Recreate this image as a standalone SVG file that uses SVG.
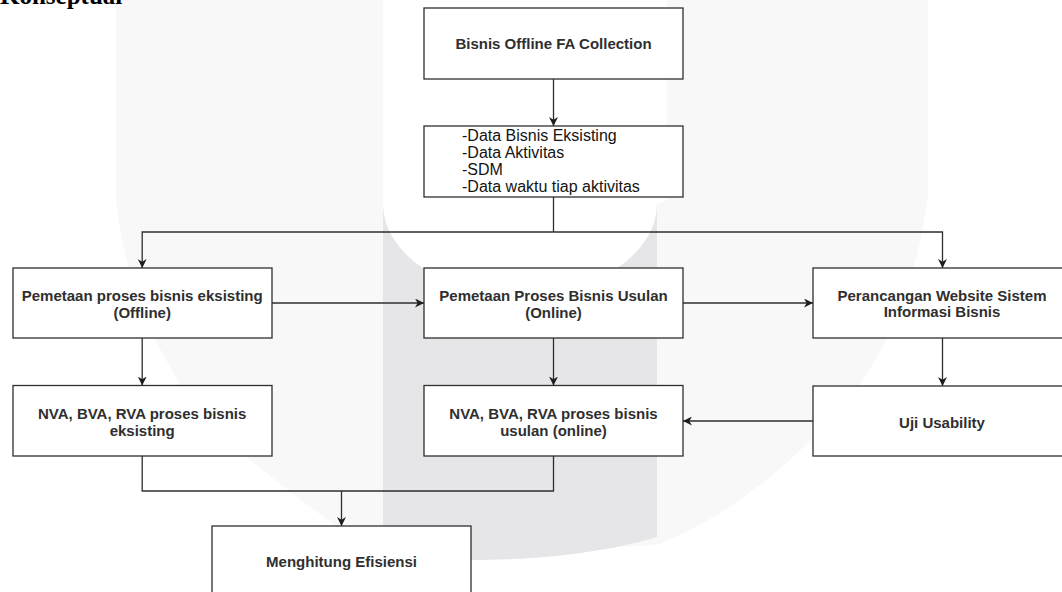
<svg xmlns="http://www.w3.org/2000/svg" width="1062" height="592" viewBox="0 0 1062 592">
  <defs>
    <style>
      .box { fill: #ffffff; stroke: #2e2e2e; stroke-width: 1.3; }
      .lbl { font-family: "Liberation Sans", Arial, sans-serif; font-size: 15px; font-weight: bold; fill: #2f2f2f; text-anchor: middle; }
      .lst { font-family: "Liberation Sans", Arial, sans-serif; font-size: 16px; fill: #141414; }
      .con { fill: none; stroke: #2e2e2e; stroke-width: 1.3; }
      .arr { marker-end: url(#ah); }
    </style>
    <marker id="ah" viewBox="0 0 10 10" refX="10" refY="5" markerWidth="9" markerHeight="9" markerUnits="userSpaceOnUse" orient="auto">
      <path d="M0,0 L10,5 L0,10 L3,5 Z" fill="#1e1e1e"/>
    </marker>
  </defs>

  <rect x="0" y="0" width="1062" height="592" fill="#ffffff"/>

  <g id="watermark">
    <path d="M116,0 L383,0 L383,204 A137,91 0 0 0 657,204 L667,200 L667,0 L928,0 L928,196 C915,300 870,390 810,441 C770,480 720,520 657,545 L383,558 C340,530 300,500 250,460 C170,400 125,290 116,200 Z" fill="#f8f8f8"/>
    <path d="M383,204 A137,91 0 0 0 657,204 L657,537 C620,548 560,560 470,560 L383,558 Z" fill="#e6e6e9"/>
  </g>

  <text x="0" y="4" font-family="'Liberation Serif', 'Times New Roman', serif" font-size="25" font-weight="bold" fill="#000">Konseptual</text>

  <g id="connectors">
    <path class="con arr" d="M553.5,79 L553.5,126"/>
    <path class="con" d="M553.5,197 L553.5,232"/>
    <path class="con arr" d="M553.5,232 L142.2,232 L142.2,268"/>
    <path class="con arr" d="M553.5,232 L942.5,232 L942.5,268"/>
    <path class="con arr" d="M272,303 L424,303"/>
    <path class="con arr" d="M683,303 L813,303"/>
    <path class="con arr" d="M142.2,338 L142.2,385.5"/>
    <path class="con arr" d="M553.5,338 L553.5,385.5"/>
    <path class="con arr" d="M942.5,338 L942.5,386"/>
    <path class="con arr" d="M813,421 L683,421"/>
    <path class="con" d="M142.2,456 L142.2,491 L553.5,491 L553.5,456"/>
    <path class="con arr" d="M341.5,491 L341.5,526"/>
  </g>

  <g id="n-bisnis-offline">
    <rect class="box" x="424" y="8" width="259" height="71"/>
    <text class="lbl" x="553.5" y="49">Bisnis Offline FA Collection</text>
  </g>

  <g id="n-data">
    <rect class="box" x="424" y="126" width="259" height="71"/>
    <text class="lst" x="462" y="141">-Data Bisnis Eksisting</text>
    <text class="lst" x="462" y="158">-Data Aktivitas</text>
    <text class="lst" x="462" y="175">-SDM</text>
    <text class="lst" x="462" y="192">-Data waktu tiap aktivitas</text>
  </g>

  <g id="n-pemetaan-eksisting">
    <rect class="box" x="13" y="268" width="259" height="70"/>
    <text class="lbl" x="142.2" y="301">Pemetaan proses bisnis eksisting</text>
    <text class="lbl" x="142.2" y="318">(Offline)</text>
  </g>

  <g id="n-pemetaan-usulan">
    <rect class="box" x="424" y="268" width="259" height="70"/>
    <text class="lbl" x="553.5" y="301">Pemetaan Proses Bisnis Usulan</text>
    <text class="lbl" x="553.5" y="318">(Online)</text>
  </g>

  <g id="n-perancangan">
    <rect class="box" x="813" y="268" width="259" height="70"/>
    <text class="lbl" x="942" y="301">Perancangan Website Sistem</text>
    <text class="lbl" x="942" y="317">Informasi Bisnis</text>
  </g>

  <g id="n-nva-eksisting">
    <rect class="box" x="13" y="385.5" width="259" height="70.5"/>
    <text class="lbl" x="142.2" y="419">NVA, BVA, RVA proses bisnis</text>
    <text class="lbl" x="142.2" y="436">eksisting</text>
  </g>

  <g id="n-nva-usulan">
    <rect class="box" x="424" y="385.5" width="259" height="70.5"/>
    <text class="lbl" x="553.5" y="419">NVA, BVA, RVA proses bisnis</text>
    <text class="lbl" x="553.5" y="436">usulan (online)</text>
  </g>

  <g id="n-uji">
    <rect class="box" x="813" y="386" width="259" height="70"/>
    <text class="lbl" x="942" y="428">Uji Usability</text>
  </g>

  <g id="n-menghitung">
    <rect class="box" x="212" y="526" width="259" height="80"/>
    <text class="lbl" x="341.5" y="567">Menghitung Efisiensi</text>
  </g>
</svg>
